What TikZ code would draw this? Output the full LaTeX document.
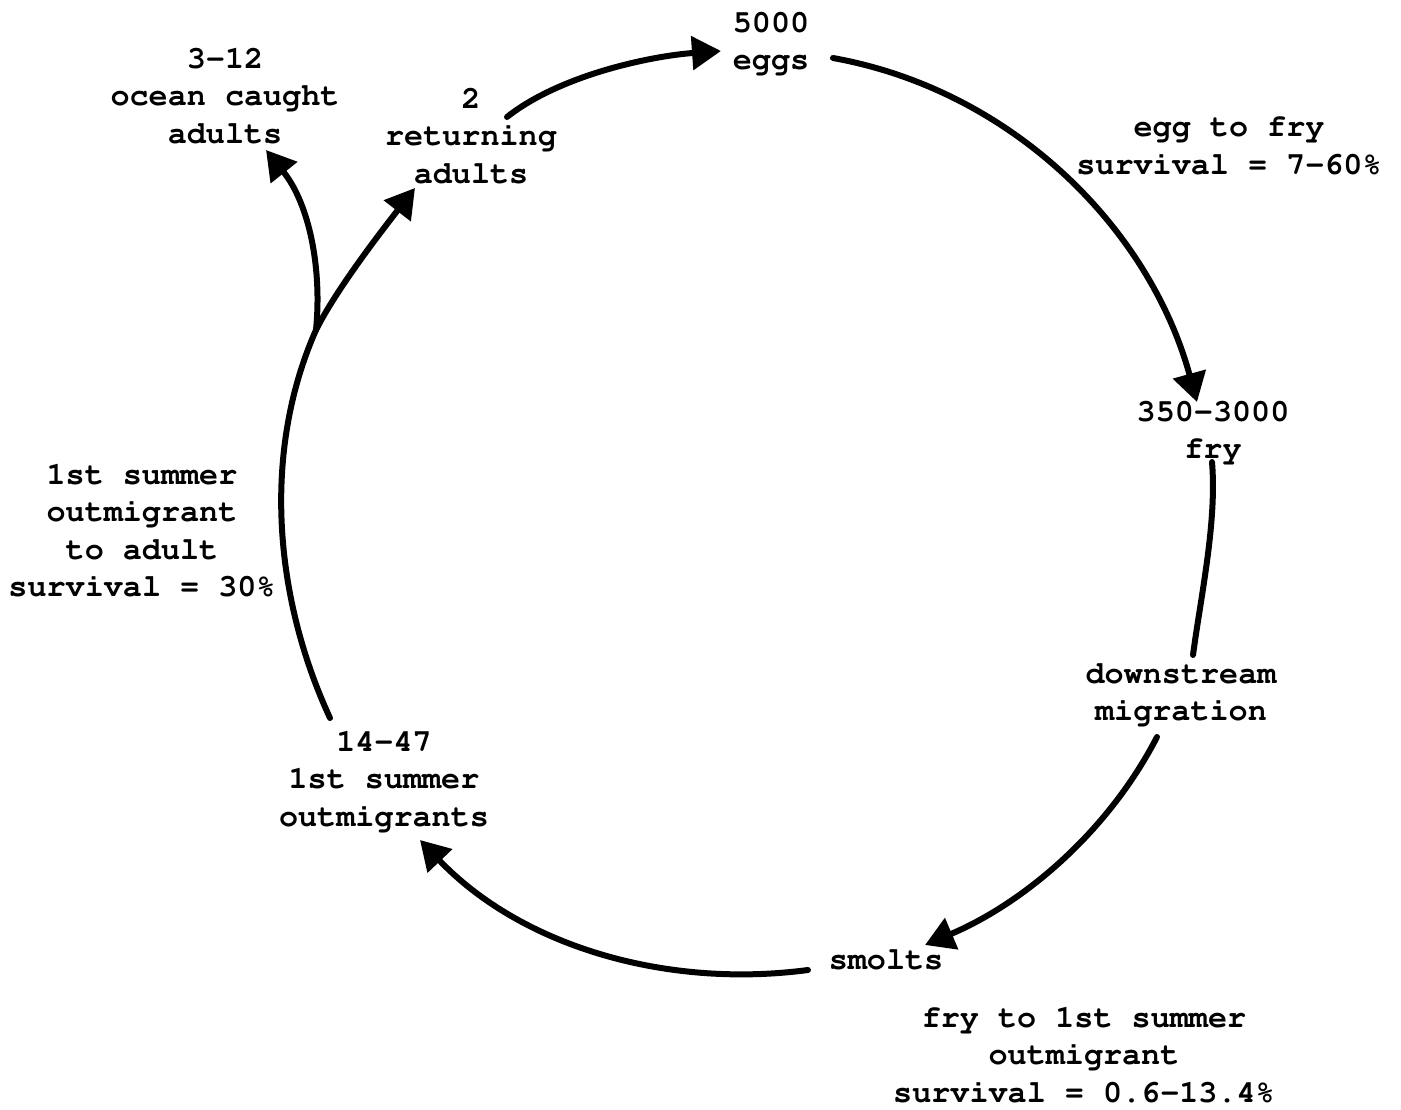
\documentclass[tikz,border=0pt]{standalone}
\usepackage[T1]{fontenc}
\usepackage{courier}
\usetikzlibrary{arrows.meta}
\begin{document}
\begin{tikzpicture}[x=1pt,y=-1pt]
\tikzset{stage/.style = {align=center,inner sep=0pt,font=\ttfamily\bfseries\fontsize{31.8}{37.5}\selectfont}}
\tikzset{link/.style = {line width=6pt,line cap=round}}
\tikzset{flow/.style = {link,-{Triangle[length=29pt,width=33pt]}}}
\useasboundingbox (0,0) rectangle (1401,1110);
% stages round the cycle
\node[stage] (eggs) at (771,43) {5000\\eggs};
\node[stage] (fry) at (1213,432) {350-3000\\fry};
\node[stage] (down) at (1181,694) {downstream\\migration};
\node[stage] (smolts) at (886,960) {smolts};
\node[stage] (outm) at (384,781) {14-47\\1st summer\\outmigrants};
\node[stage] (ocean) at (225,96) {3-12\\ocean caught\\adults};
\node[stage] (ret) at (471,136) {2\\returning\\adults};
% survival rates
\node[stage] (eggfry) at (1229,146) {egg to fry\\survival = 7-60\%};
\node[stage] (fryout) at (1084,1055) {fry to 1st summer\\outmigrant\\survival = 0.6-13.4\%};
\node[stage] (outad) at (142,531) {1st summer\\outmigrant\\to adult\\survival = 30\%};
% arrows round the cycle
\draw[flow] ([shift={(36,-19)}]ret.center) .. controls +(53,-42) and +(-70,5) .. ([shift={(-50,8)}]eggs.center);
\draw[flow] ([shift={(62,15)}]eggs.center) .. controls +(178,32) and +(-48,-175) .. ([shift={(-16,-30)}]fry.center);
\draw[link] ([shift={(-1,30)}]fry.center) .. controls +(5,60) and +(8,-60) .. ([shift={(12,-39)}]down.center);
\draw[flow] ([shift={(-24,43)}]down.center) .. controls +(-49,95) and +(99,-42) .. ([shift={(39,-15)}]smolts.center);
\draw[flow] ([shift={(-78,10)}]smolts.center) .. controls +(-144,19) and +(100,105) .. ([shift={(36,59)}]outm.center);
% the adults split at the fork
\coordinate (fork) at (316,330);
\draw[link] ([shift={(-54,-63)}]outm.center) .. controls +(-56,-121) and +(-54,122) .. (fork);
\draw[flow] (fork) .. controls +(6,-60) and +(44,55) .. ([shift={(41,54)}]ocean.center);
\draw[flow] (fork) .. controls +(20,-40) and +(-35,45) .. ([shift={(-56,52)}]ret.center);
\end{tikzpicture}
\end{document}
